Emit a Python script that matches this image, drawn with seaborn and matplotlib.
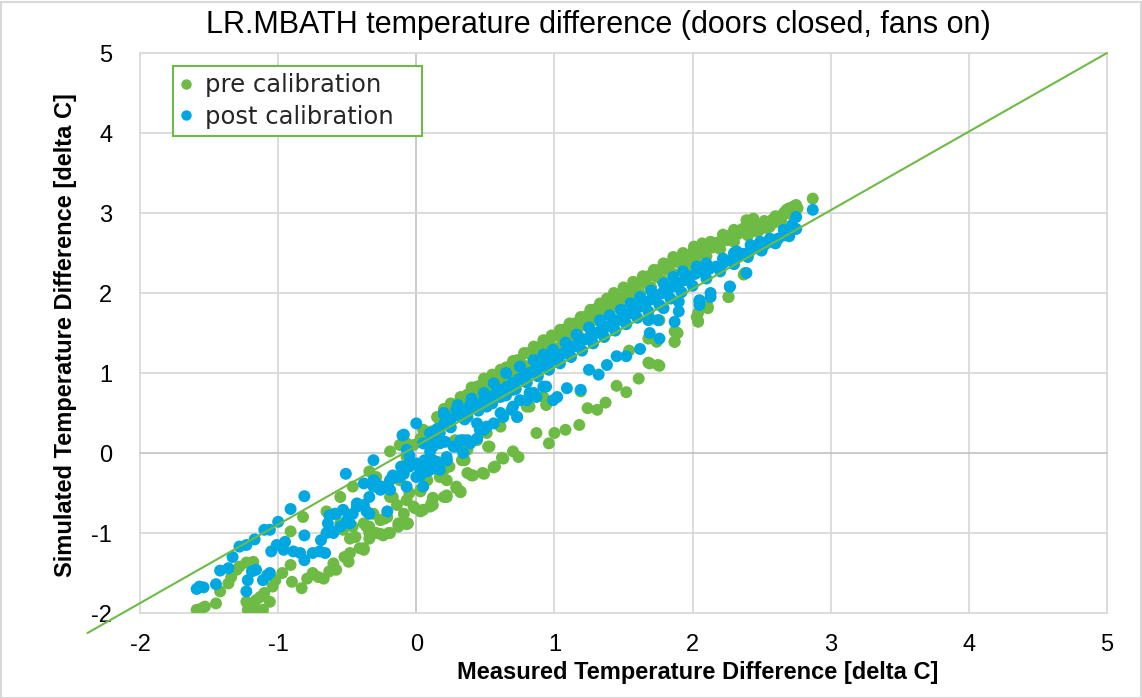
import matplotlib
matplotlib.use('Agg')
import matplotlib.pyplot as plt
import seaborn as sns
import pandas as pd
from matplotlib.patches import Rectangle
from matplotlib.lines import Line2D

# ---------------- data ----------------
series_names = ['pre calibration', 'post calibration']
series_colors = ['#6DBB45', '#00A8E1']
x_ticks = [-2, -1, 0, 1, 2, 3, 4, 5]
y_ticks = [-2, -1, 0, 1, 2, 3, 4, 5]
ref_line_x = [-2.38, 5.0]
ref_line_y = [-2.25, 5.0]

pre_band = [
    (0.20, 0.55), (0.25, 0.62), (0.32, 0.70), (0.40, 0.82), (0.49, 0.93), (0.55, 0.98),
    (0.61, 1.04), (0.70, 1.15), (0.78, 1.25), (0.85, 1.33), (0.92, 1.41), (0.98, 1.47),
    (1.04, 1.54), (1.11, 1.62), (1.19, 1.70), (1.26, 1.79), (1.33, 1.87), (1.38, 1.93),
    (1.43, 2.00), (1.50, 2.07), (1.57, 2.14), (1.64, 2.21), (1.72, 2.29), (1.79, 2.37),
    (1.86, 2.45), (1.93, 2.50), (2.01, 2.58), (2.07, 2.62), (2.13, 2.64), (2.22, 2.73),
    (2.30, 2.79), (2.39, 2.91), (2.44, 2.93), (2.54, 2.87), (2.61, 2.95), (2.68, 3.04),
    (2.75, 3.10), (2.87, 3.18), (2.46, 2.77), (2.54, 2.81), (2.61, 2.89), (2.70, 3.06),
    (2.73, 3.08), (2.66, 3.00),
    (0.28, 0.60), (0.37, 0.72), (0.46, 0.84), (0.57, 0.95), (0.65, 1.07), (0.73, 1.16),
    (0.81, 1.25), (0.88, 1.32), (0.95, 1.40), (1.01, 1.47), (1.08, 1.55), (1.15, 1.62),
    (1.23, 1.71), (1.30, 1.80), (1.37, 1.87), (1.45, 1.95), (1.53, 2.04), (1.60, 2.12),
    (1.68, 2.21), (1.76, 2.29), (1.84, 2.37), (1.92, 2.45), (2.00, 2.51), (2.09, 2.57),
    (2.18, 2.63), (2.27, 2.72), (2.36, 2.80), (2.45, 2.87), (2.52, 2.90), (2.60, 2.96),
    (2.69, 3.03), (2.76, 3.06),
    (0.25, 0.52), (0.35, 0.63), (0.45, 0.76), (0.52, 0.83), (0.60, 0.92), (0.68, 1.02),
    (0.76, 1.12), (0.84, 1.21), (0.90, 1.28), (0.97, 1.35), (1.05, 1.44), (1.12, 1.52),
    (1.20, 1.60), (1.28, 1.70), (1.35, 1.77), (1.43, 1.86), (1.51, 1.95), (1.58, 2.03),
    (1.66, 2.12), (1.74, 2.20), (1.82, 2.29), (1.90, 2.38), (1.97, 2.44), (2.06, 2.50),
    (2.15, 2.57), (2.25, 2.66), (2.33, 2.74), (2.42, 2.82), (2.50, 2.86), (2.58, 2.92),
    (2.66, 2.98), (2.72, 3.05),
    (0.30, 0.48), (0.40, 0.58), (0.50, 0.70), (0.58, 0.80), (0.66, 0.90), (0.74, 0.99),
    (0.82, 1.09), (0.88, 1.15), (0.95, 1.24), (1.02, 1.31), (1.10, 1.40), (1.17, 1.48),
    (1.25, 1.58), (1.32, 1.65), (1.40, 1.74), (1.47, 1.83), (1.55, 1.90), (1.62, 1.99),
    (1.70, 2.07), (1.78, 2.16), (1.86, 2.24), (1.95, 2.32), (2.02, 2.40), (2.10, 2.46),
    (2.20, 2.55), (2.30, 2.64), (2.40, 2.72), (2.48, 2.78), (2.56, 2.83), (2.64, 2.90),
    (2.72, 2.98),
]

pre_scatter = [
    (-1.59, -1.96), (-1.55, -1.94), (-1.53, -1.92), (-1.45, -1.88), (-1.42, -1.73),
    (-1.36, -1.63), (-1.34, -1.55), (-1.30, -1.46), (-1.28, -1.42), (-1.23, -1.37),
    (-1.18, -1.36), (-1.23, -1.86), (-1.22, -1.96), (-1.19, -2.00), (-1.18, -1.92),
    (-1.16, -1.84), (-1.13, -1.80), (-1.10, -1.75), (-1.11, -1.96), (-1.06, -1.86),
    (-1.04, -1.67), (-1.02, -1.59), (-0.97, -1.50), (-0.91, -1.40), (-0.90, -1.61),
    (-0.83, -1.69), (-0.79, -1.57), (-0.75, -1.50), (-0.71, -1.55), (-0.67, -1.57),
    (-0.63, -1.48), (-0.60, -1.38), (-0.58, -1.46), (-0.52, -1.30), (-0.49, -1.36),
    (-0.48, -1.07), (-0.44, -1.05), (-0.41, -1.19), (-0.38, -1.21), (-0.36, -0.92),
    (-0.34, -1.00), (-0.29, -1.00), (-0.24, -1.03), (-0.21, -0.80), (-0.19, -1.00),
    (-0.13, -0.88), (-0.06, -0.88), (-0.09, -0.76), (-0.02, -0.67), (0.03, -0.73),
    (0.10, -0.67), (0.12, -0.65), (0.20, -0.55), (0.22, -0.34), (0.20, -0.21),
    (0.03, -0.46), (-0.05, -0.50), (-0.12, -0.34), (-0.17, -0.55), (-0.26, -0.84),
    (-0.31, -0.76), (-0.38, -0.88), (-0.46, -0.92), (-0.53, -0.96),
    (-0.19, 0.02), (-0.12, 0.10), (-0.07, -0.05), (-0.02, 0.10), (0.05, 0.29),
    (0.12, 0.18), (0.17, 0.41), (0.20, 0.52), (-0.34, -0.23), (-0.29, -0.30),
    (-0.24, -0.42), (-0.19, -0.55), (-0.46, -0.42), (-0.55, -0.55), (-0.91, -0.98),
    (-0.82, -0.80), (-0.65, -0.73), (-0.55, -0.88),
    (-0.20, -1.00), (-0.13, -0.92), (-0.07, -0.89), (-0.26, -1.01), (-0.34, -1.07),
    (-0.38, -1.19), (-0.48, -1.25), (-0.01, -0.69), (0.05, -0.71), (0.11, -0.63),
    (0.12, -0.57), (0.22, -0.55), (0.29, -0.44), (0.32, -0.48), (0.37, -0.25),
    (0.41, -0.28), (0.49, -0.26), (0.57, -0.17), (0.63, -0.07), (0.70, 0.02),
    (0.74, -0.05), (0.29, -0.42), (0.32, -0.49), (0.22, -0.53), (0.12, -0.56),
    (0.52, 0.08), (0.62, -0.06), (0.56, -0.18), (0.48, -0.25), (0.40, -0.28),
    (-0.34, -0.92), (-0.23, -0.82), (-0.14, -0.65), (-0.07, -0.59), (0.03, -0.48),
    (0.08, -0.34), (0.17, -0.30), (0.24, -0.17), (0.33, -0.09), (0.37, 0.04),
    (0.44, 0.16), (0.51, 0.25), (0.53, 0.08), (0.61, 0.33), (0.73, 0.45),
    (0.82, 0.58), (0.92, 0.70), (-0.07, 0.12), (0.15, 0.45), (0.21, 0.37),
    (0.29, 0.50), (0.37, 0.73), (0.44, 0.83), (-0.08, 0.12), (0.03, 0.18),
    (0.11, 0.27), (0.21, 0.41), (0.24, 0.50), (0.33, 0.08), (0.28, 0.16),
    (0.35, -0.09),
    (0.87, 0.25), (1.00, 0.25), (1.08, 0.29), (1.18, 0.35), (0.96, 0.12),
    (1.24, 0.56), (1.31, 0.54), (1.37, 0.63), (1.45, 0.84), (1.52, 0.76),
    (1.61, 0.93), (1.68, 1.13), (1.76, 1.09), (1.87, 1.39), (1.89, 1.50),
    (2.03, 1.70), (2.04, 1.65), (2.11, 1.81), (2.26, 1.95), (2.38, 2.25),
    (1.19, 0.77), (2.37, 2.23), (2.26, 1.95), (2.11, 1.83), (2.04, 1.75),
    (2.04, 1.64), (1.89, 1.50), (1.87, 1.39), (1.74, 1.39), (1.75, 1.10),
    (1.69, 1.12), (1.68, 1.43), (1.87, 1.52), (1.76, 1.66), (1.54, 1.28),
    (0.94, 0.60), (0.80, 0.58),
]

post_band = [
    (0.20, 0.50), (0.30, 0.60), (0.40, 0.68), (0.49, 0.75), (0.56, 0.87), (0.65, 1.00),
    (0.75, 1.08), (0.85, 1.16), (0.92, 1.23), (0.99, 1.29), (1.08, 1.38), (1.16, 1.48),
    (1.25, 1.57), (1.33, 1.66), (1.40, 1.72), (1.48, 1.79), (1.55, 1.87), (1.62, 1.95),
    (1.70, 2.03), (1.79, 2.12), (1.86, 2.20), (1.93, 2.27), (2.03, 2.33), (2.10, 2.37),
    (2.22, 2.43), (2.30, 2.50), (2.32, 2.52), (2.42, 2.60), (2.49, 2.64), (2.56, 2.68),
    (2.66, 2.79), (2.72, 2.85), (2.75, 2.95), (2.87, 3.04),
    (0.15, 0.30), (0.25, 0.42), (0.35, 0.52), (0.45, 0.61), (0.54, 0.70), (0.62, 0.79),
    (0.70, 0.88), (0.78, 0.96), (0.86, 1.04), (0.94, 1.12), (1.02, 1.20), (1.10, 1.29),
    (1.18, 1.38), (1.26, 1.46), (1.34, 1.54), (1.42, 1.62), (1.50, 1.70), (1.58, 1.78),
    (1.66, 1.87), (1.74, 1.96), (1.82, 2.04), (1.90, 2.12), (1.98, 2.20), (2.07, 2.27),
    (2.17, 2.33), (2.27, 2.41), (2.37, 2.49), (2.47, 2.56), (2.57, 2.64), (2.66, 2.72),
    (0.10, 0.25), (0.20, 0.36), (0.30, 0.47), (0.40, 0.57), (0.50, 0.66), (0.58, 0.75),
    (0.66, 0.83), (0.74, 0.92), (0.82, 1.00), (0.90, 1.08), (0.98, 1.16), (1.06, 1.24),
    (1.14, 1.33), (1.22, 1.42), (1.30, 1.50), (1.38, 1.58), (1.46, 1.66), (1.54, 1.74),
    (1.62, 1.83), (1.70, 1.92), (1.78, 2.00), (1.86, 2.08), (1.94, 2.16), (2.02, 2.24),
    (2.12, 2.30), (2.22, 2.37), (2.32, 2.45), (2.42, 2.53), (2.52, 2.60), (2.62, 2.68),
    (2.70, 2.75),
    (0.15, 0.20), (0.25, 0.32), (0.35, 0.42), (0.45, 0.53), (0.55, 0.62), (0.65, 0.72),
    (0.72, 0.80), (0.80, 0.88), (0.88, 0.96), (0.96, 1.04), (1.04, 1.12), (1.12, 1.20),
    (1.20, 1.28), (1.28, 1.37), (1.36, 1.45), (1.44, 1.53), (1.52, 1.61), (1.60, 1.69),
    (1.68, 1.77), (1.76, 1.85), (1.84, 1.93), (1.92, 2.01), (2.00, 2.09), (2.10, 2.18),
    (2.20, 2.27), (2.30, 2.36), (2.40, 2.45), (2.50, 2.53), (2.60, 2.62), (2.70, 2.71),
    (2.75, 2.80),
]

post_scatter = [
    (-1.59, -1.70), (-1.57, -1.67), (-1.54, -1.68), (-1.45, -1.64), (-1.42, -1.47),
    (-1.36, -1.44), (-1.33, -1.30), (-1.28, -1.17), (-1.23, -1.15), (-1.17, -1.08),
    (-1.10, -0.96), (-1.06, -0.96), (-1.00, -0.86), (-0.91, -0.70), (-0.81, -0.54),
    (-0.51, -0.26), (-0.31, -0.09), (-0.10, 0.22), (0.00, 0.37),
    (-1.23, -1.73), (-1.22, -1.59), (-1.19, -1.48), (-1.16, -1.46), (-1.11, -1.59),
    (-1.08, -1.53), (-1.06, -1.50), (-1.05, -1.23), (-1.01, -1.15), (-0.95, -1.11),
    (-0.96, -1.21), (-0.89, -1.23), (-0.84, -1.25), (-0.81, -1.34), (-0.75, -1.25),
    (-0.70, -1.23), (-0.66, -1.25), (-0.81, -1.03), (-0.69, -1.09), (-0.65, -1.00),
    (-0.64, -0.88), (-0.63, -0.78), (-0.58, -0.76), (-0.60, -0.98),
    (-0.55, -0.92), (-0.50, -0.84), (-0.46, -0.76), (-0.43, -0.67), (-0.38, -0.65),
    (-0.36, -0.73), (-0.34, -0.55), (-0.31, -0.42), (-0.29, -0.38), (-0.26, -0.46),
    (-0.21, -0.42), (-0.19, -0.34), (-0.17, -0.28), (-0.12, -0.30), (-0.09, -0.26),
    (-0.07, -0.42), (-0.05, -0.17), (0.00, -0.13), (0.03, -0.17), (0.06, -0.09),
    (0.10, 0.02), (0.12, 0.08), (0.17, 0.12), (0.21, 0.14), (0.22, -0.09),
    (0.12, -0.19), (0.08, -0.23), (0.03, -0.28), (0.05, -0.42),
    (0.20, 0.48), (-0.38, -0.38), (-0.31, -0.34), (-0.26, -0.42), (-0.19, -0.46),
    (-0.14, -0.30), (-0.11, -0.17), (-0.02, -0.13), (0.03, -0.23), (0.10, -0.21),
    (0.15, -0.11), (0.22, -0.09), (0.29, 0.08), (0.34, 0.16), (0.39, 0.12),
    (0.44, 0.18), (0.49, 0.29), (0.56, 0.37), (0.63, 0.45), (0.69, 0.54),
    (0.75, 0.66), (0.82, 0.75), (0.92, 0.83), (-0.21, -0.73), (-0.34, -0.76),
    (-0.43, -0.63), (-0.53, -0.71), (-0.59, -0.76), (-0.60, -1.00), (-0.48, -0.88),
    (0.10, 0.14), (0.17, 0.25), (0.05, 0.12), (-0.05, -0.03), (0.29, 0.54),
    (0.39, 0.60), (0.49, 0.66), (0.58, 0.70), (0.70, 0.79),
    (0.32, 0.16), (0.37, 0.16), (0.46, 0.29), (0.51, 0.33), (0.61, 0.50),
    (0.70, 0.58), (0.73, 0.45), (0.80, 0.66), (0.85, 0.75), (0.87, 0.70),
    (0.94, 0.83), (0.99, 0.66), (1.02, 0.70), (1.09, 0.81), (1.19, 0.79),
    (1.25, 1.04), (1.32, 0.98), (1.38, 1.10), (1.45, 1.21), (1.52, 1.21),
    (1.62, 1.30), (1.68, 1.66), (1.75, 1.66), (1.76, 1.43), (1.87, 1.64),
    (1.90, 1.77), (2.05, 1.89), (2.13, 1.95), (2.27, 2.08),
    (-0.09, 0.23), (-0.05, -0.13), (0.00, -0.30), (0.03, -0.21), (0.12, -0.09),
    (0.17, -0.21), (0.22, -0.05), (0.27, 0.08), (0.34, 0.00), (-0.07, 0.04),
    (0.44, 0.37), (0.37, 0.45), (0.51, 0.58), (0.61, 0.70),
    (2.39, 2.25), (2.27, 2.08), (2.13, 2.00), (2.05, 1.91), (2.05, 1.85),
    (1.90, 1.89), (1.79, 1.81), (1.69, 1.50), (1.69, 1.68),
]

# ---------------- table ----------------
rows = ([(x, y, series_names[0]) for x, y in pre_band + pre_scatter] +
        [(x, y, series_names[1]) for x, y in post_band + post_scatter])
df = pd.DataFrame(rows, columns=['measured', 'simulated', 'series'])

# ---------------- figure ----------------
sns.set_theme(style='white')
plt.rcParams['font.family'] = ['Liberation Sans', 'DejaVu Sans']
plt.rcParams['axes.unicode_minus'] = False

W, H = 1142, 698
fig = plt.figure(figsize=(W / 100, H / 100), dpi=100)
ax = fig.add_axes([140 / W, 1 - 613 / H, 967 / W, 560 / H])

palette = dict(zip(series_names, series_colors))
sns.scatterplot(data=df, x='measured', y='simulated', hue='series', palette=palette,
                s=74, linewidth=0, alpha=1, ax=ax, legend=False, zorder=3)

ax.plot(ref_line_x, ref_line_y, color=series_colors[0], lw=1.5, clip_on=False, zorder=4)

ax.set_xlim(x_ticks[0], x_ticks[-1])
ax.set_ylim(y_ticks[0], y_ticks[-1])
ax.set_xticks(x_ticks)
ax.set_yticks(y_ticks)
ax.grid(False)
for t in x_ticks:
    ax.axvline(t, color='#C6C6C6' if t == 0 else '#D9D9D9', lw=1.3, zorder=1, clip_on=False)
for t in y_ticks:
    ax.axhline(t, color='#C6C6C6' if t == 0 else '#D9D9D9', lw=1.3, zorder=1, clip_on=False)
for sp in ax.spines.values():
    sp.set_visible(False)

ax.tick_params(axis='y', length=0, pad=20, labelsize=17, labelcolor='black')
ax.tick_params(axis='x', length=0, pad=15, labelsize=17, labelcolor='black')

ax.set_xlabel('Measured Temperature Difference [delta C]', fontsize=17, fontweight='bold',
              color='black')
ax.set_ylabel('Simulated Temperature Difference [delta C]', fontsize=17, fontweight='bold',
              color='black')
ax.xaxis.set_label_coords(((455 + 940) / 2 - 140) / 967, -(661 - 613) / 560)
ax.yaxis.set_label_coords(-(140 - 77) / 967, (613 - 335) / 560)

fig.text(0.5 * (212 + 985) / W, 1 - 25 / H,
         'LR.MBATH temperature difference (doors closed, fans on)',
         ha='center', va='center', fontsize=22, color='black')

handles = [Line2D([0], [0], marker='o', linestyle='', markersize=7.5,
                  markerfacecolor=c, markeredgewidth=0) for c in series_colors]
leg = ax.legend(handles, series_names, loc='upper left', mode='expand',
                bbox_to_anchor=(173 / W, 1 - 137 / H, 249 / W, 71 / H),
                bbox_transform=fig.transFigure,
                borderaxespad=0, frameon=True, fancybox=False, framealpha=1,
                prop={'family': ['DejaVu Sans'], 'size': 17.5},
                handlelength=0.5, handletextpad=0.5, borderpad=0.3, labelspacing=0.3)
leg.get_frame().set_edgecolor(series_colors[0])
leg.get_frame().set_linewidth(1.5)
leg.set_zorder(6)

fig.patches.append(Rectangle((0.5 / W, 0.5 / H), 1 - 2 / W, 1 - 2 / H, transform=fig.transFigure,
                             fill=False, edgecolor='#D9D9D9', lw=1.5))

fig.savefig('out.png', dpi=100)
